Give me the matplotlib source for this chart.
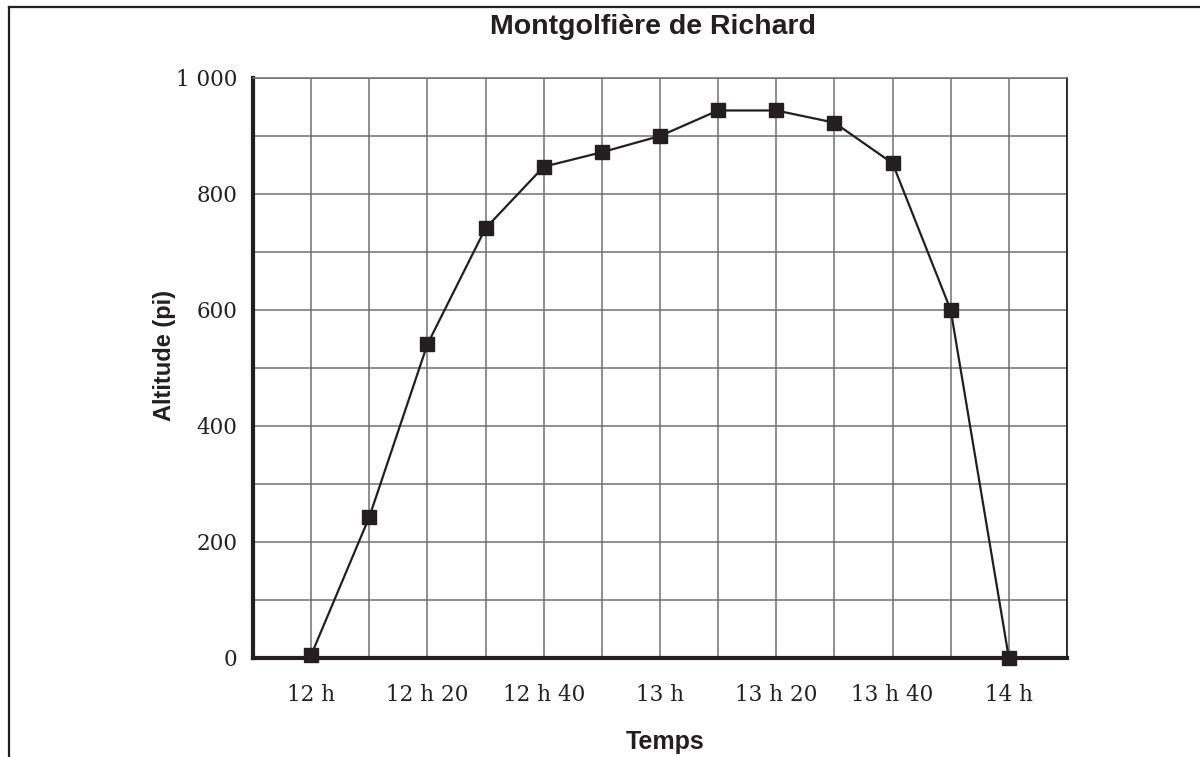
import matplotlib
matplotlib.use("Agg")
import matplotlib.pyplot as plt
from matplotlib.ticker import MultipleLocator, FixedLocator
from matplotlib.lines import Line2D

minutes = [0, 10, 20, 30, 40, 50, 60, 70, 80, 90, 100, 110, 120]
altitude = [5, 243, 541, 741, 847, 872, 900, 944, 944, 923, 853, 600, 0]
tick_minutes = [0, 20, 40, 60, 80, 100, 120]
tick_labels = ["12 h", "12 h 20", "12 h 40", "13 h", "13 h 20", "13 h 40", "14 h"]
y_ticks = [0, 200, 400, 600, 800, 1000]
y_labels = ["0", "200", "400", "600", "800", "1 000"]

W, H = 1200, 757
fig = plt.figure(figsize=(12, 7.57), dpi=100)
ax = fig.add_axes([253 / W, 1 - 658 / H, (1067 - 253) / W, (658 - 78) / H])

ax.set_xlim(-10, 130)
ax.set_ylim(0, 1000)

ax.xaxis.set_major_locator(FixedLocator(tick_minutes))
ax.set_xticklabels(tick_labels)
ax.xaxis.set_minor_locator(MultipleLocator(10))
ax.yaxis.set_major_locator(FixedLocator(y_ticks))
ax.set_yticklabels(y_labels)
ax.yaxis.set_minor_locator(MultipleLocator(100))

ax.grid(True, which="both", color="#707070", linewidth=1.1)
ax.set_axisbelow(True)
ax.tick_params(which="both", length=0)
ax.tick_params(axis="x", pad=19)
ax.tick_params(axis="y", pad=11)
for lab in ax.get_xticklabels() + ax.get_yticklabels():
    lab.set_fontfamily("DejaVu Serif")
    lab.set_fontsize(15.5)
    lab.set_color("#222222")

for s in ["left", "bottom"]:
    ax.spines[s].set_linewidth(3)
    ax.spines[s].set_color("#231f20")
ax.spines["top"].set_linewidth(1.1)
ax.spines["top"].set_color("#707070")
ax.spines["right"].set_linewidth(1.3)
ax.spines["right"].set_color("#231f20")

ax.plot(minutes, altitude, color="#231f20", linewidth=1.6, marker="s",
        markersize=10, markerfacecolor="#231f20", markeredgecolor="#231f20",
        clip_on=False, zorder=5)

fig.text(653 / W, 1 - 27 / H, "Montgolfière de Richard", ha="center", va="center",
         fontsize=20.5, fontweight="bold", family="Liberation Sans", color="#231f20")
fig.text(665 / W, 1 - 742 / H, "Temps", ha="center", va="center",
         fontsize=18, fontweight="bold", family="Liberation Sans", color="#231f20")
fig.text(165 / W, 1 - 355 / H, "Altitude (pi)", ha="center", va="center", rotation=90,
         fontsize=17, fontweight="bold", family="Liberation Sans", color="#231f20")

# page border (left and top)
fig.add_artist(Line2D([9 / W, 9 / W], [0, 1 - 7 / H], transform=fig.transFigure,
                      color="#231f20", linewidth=1.6))
fig.add_artist(Line2D([9 / W, 1], [1 - 7 / H, 1 - 7 / H], transform=fig.transFigure,
                      color="#231f20", linewidth=1.6))

fig.savefig("out.png", dpi=100)
